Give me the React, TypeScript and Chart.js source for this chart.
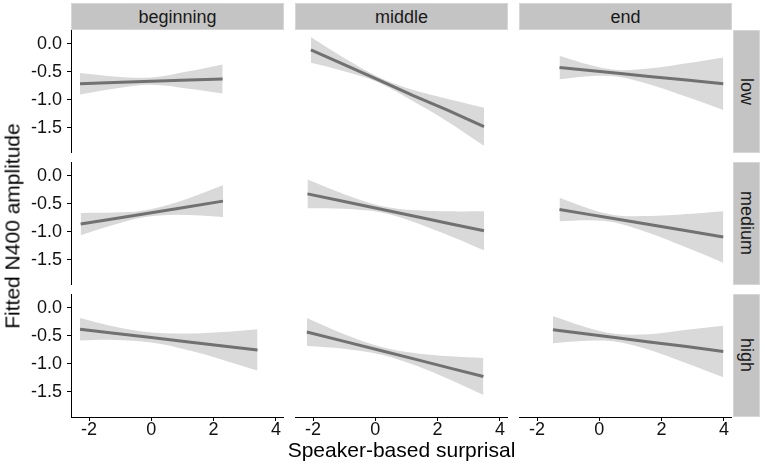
import { useEffect, useRef } from "react";
import { Chart, registerables } from "chart.js";

Chart.register(...registerables);

// facet labels and axis ticks
const colLabels = ["beginning", "middle", "end"];
const rowLabels = ["low", "medium", "high"];
const xTicks = [-2, 0, 2, 4];
const yTicks = [0, -0.5, -1, -1.5];

// each row: [surprisal, fitted amplitude, lower CI, upper CI]
const lowBeginning = [
  [-2.29, -0.71, -0.905, -0.52],
  [-1.2, -0.69, -0.8, -0.58],
  [0, -0.665, -0.73, -0.6],
  [1.2, -0.645, -0.8, -0.49],
  [2.29, -0.625, -0.885, -0.365],
];
const lowMiddle = [
  [-2.07, -0.107, -0.337, 0.123],
  [-1, -0.37, -0.49, -0.25],
  [0.1, -0.64, -0.69, -0.59],
  [1.2, -0.92, -1.02, -0.82],
  [2.3, -1.18, -1.38, -0.98],
  [3.49, -1.48, -1.82, -1.14],
];
const lowEnd = [
  [-1.28, -0.42, -0.63, -0.21],
  [-0.3, -0.475, -0.575, -0.375],
  [0.6, -0.525, -0.585, -0.465],
  [1.6, -0.58, -0.72, -0.44],
  [2.8, -0.645, -0.945, -0.345],
  [3.98, -0.71, -1.18, -0.24],
];
const mediumBeginning = [
  [-2.27, -0.86, -1.06, -0.66],
  [-1.2, -0.764, -0.874, -0.654],
  [-0.3, -0.683, -0.743, -0.623],
  [0.8, -0.585, -0.695, -0.475],
  [2.3, -0.45, -0.735, -0.165],
];
const mediumMiddle = [
  [-2.18, -0.32, -0.575, -0.065],
  [-1, -0.457, -0.587, -0.327],
  [0.15, -0.591, -0.651, -0.531],
  [1.3, -0.725, -0.835, -0.615],
  [2.4, -0.853, -1.073, -0.633],
  [3.49, -0.98, -1.33, -0.63],
];
const mediumEnd = [
  [-1.28, -0.6, -0.81, -0.39],
  [-0.3, -0.691, -0.791, -0.591],
  [0.5, -0.766, -0.831, -0.701],
  [1.6, -0.868, -1.018, -0.718],
  [2.8, -0.98, -1.28, -0.68],
  [3.98, -1.09, -1.55, -0.63],
];
const highBeginning = [
  [-2.29, -0.38, -0.58, -0.18],
  [-1.2, -0.451, -0.571, -0.331],
  [0, -0.529, -0.619, -0.439],
  [1.2, -0.607, -0.757, -0.457],
  [2.3, -0.679, -0.929, -0.429],
  [3.41, -0.75, -1.12, -0.38],
];
const highMiddle = [
  [-2.2, -0.43, -0.68, -0.18],
  [-1, -0.598, -0.728, -0.468],
  [0.2, -0.766, -0.836, -0.696],
  [1.3, -0.92, -1.03, -0.81],
  [2.4, -1.075, -1.285, -0.865],
  [3.47, -1.225, -1.555, -0.895],
];
const highEnd = [
  [-1.49, -0.39, -0.63, -0.15],
  [-0.4, -0.467, -0.587, -0.347],
  [0.5, -0.53, -0.6, -0.46],
  [1.6, -0.609, -0.749, -0.469],
  [2.8, -0.69, -0.99, -0.39],
  [3.98, -0.78, -1.24, -0.32],
];

const panels = [
  [lowBeginning, lowMiddle, lowEnd],
  [mediumBeginning, mediumMiddle, mediumEnd],
  [highBeginning, highMiddle, highEnd],
];

const FONT = '"Liberation Sans", Arial, Helvetica, sans-serif';
const RIBBON = "#d9d9d9";
const LINE = "#717171";
const STRIP = "#c4c4c4";

// layout in page pixels
const colLeft = [71, 295, 519];
const rowTop = [30, 162, 294];
const PANEL_W = 213;
const PANEL_H = 123;
const AXIS_W = 60;
const AXIS_H = 28;

const X_MIN = -2.58;
const X_MAX = 4.26;
const Y_MIN = -1.95;
const Y_MAX = 0.25;

type PanelProps = { rows: number[][]; row: number; col: number };

const Panel: React.FC<PanelProps> = ({ rows, row, col }) => {
  const canvasRef = useRef<HTMLCanvasElement | null>(null);
  const showY = col === 0;
  const showX = row === 2;
  const w = PANEL_W + (showY ? AXIS_W : 0);
  const h = PANEL_H + (showX ? AXIS_H : 0);

  useEffect(() => {
    if (!canvasRef.current) return;
    const axisGrid = {
      drawOnChartArea: false,
      drawTicks: true,
      tickLength: 4,
      color: "#000",
      lineWidth: 1,
    };
    const chart = new Chart(canvasRef.current, {
      type: "line",
      data: {
        // fitted line first so it is painted on top of the ribbon
        datasets: [
          {
            data: rows.map((r) => ({ x: r[0], y: r[1] })),
            borderColor: LINE,
            borderWidth: 3,
            pointRadius: 0,
            fill: false,
          },
          {
            data: rows.map((r) => ({ x: r[0], y: r[3] })),
            borderWidth: 0,
            pointRadius: 0,
            backgroundColor: RIBBON,
            fill: "+1",
            tension: 0.35,
          },
          {
            data: rows.map((r) => ({ x: r[0], y: r[2] })),
            borderWidth: 0,
            pointRadius: 0,
            fill: false,
            tension: 0.35,
          },
        ],
      },
      options: {
        animation: false,
        responsive: false,
        events: [],
        layout: { padding: 0, autoPadding: false },
        plugins: { legend: { display: false }, tooltip: { enabled: false } },
        scales: {
          x: {
            type: "linear",
            min: X_MIN,
            max: X_MAX,
            display: showX,
            afterBuildTicks: (s: any) => {
              s.ticks = xTicks.map((v) => ({ value: v }));
            },
            afterFit: (s: any) => {
              s.height = showX ? AXIS_H : 0;
              s.paddingLeft = 0;
              s.paddingRight = 0;
              s.paddingTop = 0;
              s.paddingBottom = 0;
            },
            ticks: {
              color: "#111",
              padding: 0,
              font: { family: FONT, size: 18, lineHeight: 1 },
              callback: (v: any) => String(v),
            },
            grid: axisGrid,
            border: { display: true, color: "#000", width: 1 },
          },
          y: {
            type: "linear",
            min: Y_MIN,
            max: Y_MAX,
            display: showY,
            afterBuildTicks: (s: any) => {
              s.ticks = yTicks.map((v) => ({ value: v }));
            },
            afterFit: (s: any) => {
              s.width = showY ? AXIS_W : 0;
              s.paddingLeft = 0;
              s.paddingRight = 0;
              s.paddingTop = 0;
              s.paddingBottom = 0;
            },
            ticks: {
              color: "#111",
              padding: 5,
              font: { family: FONT, size: 18, lineHeight: 1 },
              callback: (v: any) => Number(v).toFixed(1),
            },
            grid: axisGrid,
            border: { display: true, color: "#000", width: 1 },
          },
        },
      },
    } as any);
    return () => chart.destroy();
  }, [rows, showX, showY]);

  return (
    <canvas
      ref={canvasRef}
      width={w}
      height={h}
      style={{
        position: "absolute",
        left: colLeft[col] - (showY ? AXIS_W : 0),
        top: rowTop[row],
        width: w,
        height: h,
      }}
    />
  );
};

const stripText = {
  fontFamily: FONT,
  fontSize: 18,
  color: "#1a1a1a",
};

export default function App() {
  return (
    <div
      style={{
        position: "absolute",
        left: 0,
        top: 0,
        width: 765,
        height: 473,
        background: "#fff",
        overflow: "hidden",
      }}
    >
      {colLabels.map((label, c) => (
        <div
          key={label}
          style={{
            ...stripText,
            position: "absolute",
            left: colLeft[c],
            top: 3,
            width: PANEL_W,
            height: 27,
            lineHeight: "27px",
            textAlign: "center",
            background: STRIP,
            boxSizing: "border-box",
            border: "1px solid #d6d6d6",
          }}
        >
          {label}
        </div>
      ))}
      {rowLabels.map((label, r) => (
        <div
          key={label}
          style={{
            ...stripText,
            position: "absolute",
            left: 733,
            top: rowTop[r],
            width: 27,
            height: PANEL_H,
            background: STRIP,
            boxSizing: "border-box",
            border: "1px solid #d6d6d6",
            display: "flex",
            alignItems: "center",
            justifyContent: "center",
          }}
        >
          <span style={{ writingMode: "vertical-rl", lineHeight: "25px" }}>{label}</span>
        </div>
      ))}
      {panels.map((cols, r) =>
        cols.map((rows, c) => <Panel key={`${r}-${c}`} rows={rows} row={r} col={c} />)
      )}
      <div
        style={{
          position: "absolute",
          left: colLeft[0],
          top: 438,
          width: colLeft[2] + PANEL_W - colLeft[0],
          height: 24,
          lineHeight: "24px",
          textAlign: "center",
          fontFamily: FONT,
          fontSize: 21,
          color: "#000",
        }}
      >
        Speaker-based surprisal
      </div>
      <div
        style={{
          position: "absolute",
          left: 12,
          top: 226,
          transform: "translate(-50%, -50%) rotate(-90deg)",
          whiteSpace: "nowrap",
          lineHeight: 1,
          fontFamily: FONT,
          fontSize: 21,
          color: "#000",
        }}
      >
        Fitted N400 amplitude
      </div>
    </div>
  );
}
